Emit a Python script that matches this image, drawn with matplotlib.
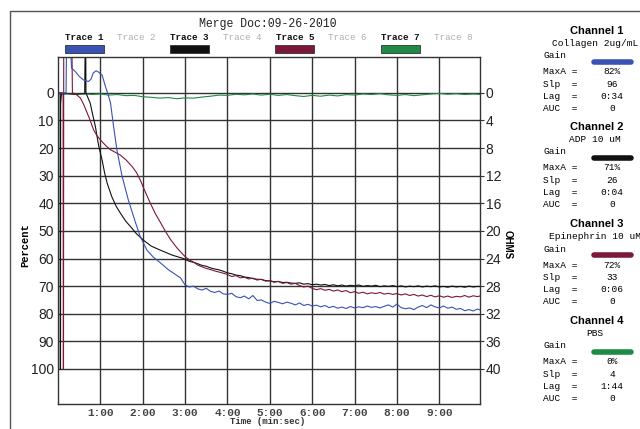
import numpy as np
import matplotlib
matplotlib.use('Agg')
import matplotlib.pyplot as plt
from matplotlib.patches import Rectangle
from matplotlib.lines import Line2D

MONO = 'Liberation Mono'
SANS = 'Liberation Sans'

# ---- traces (time in minutes, value in percent) ----
tail_t = [round(3.0 + 0.1 * i, 1) for i in range(71)]

blue_head_t = [0, 0.19, 0.20, 0.30, 0.32, 0.41, 0.50, 0.60, 0.72, 0.78, 0.83, 0.90, 0.95,
               1.04, 1.12, 1.18, 1.24, 1.31, 1.39, 1.51, 1.66, 1.83, 1.94, 2.10, 2.25,
               2.42, 2.60, 2.89]
blue_head_v = [0, 0, -15, -15, -9, -7.7, -6.0, -4.7, -4.1, -5.0, -7.2, -8.0, -7.6,
               -6.5, -2.3, 0.5, 3.7, 12, 20.6, 30, 38.8, 47, 52, 57, 59.5,
               61.6, 64, 67]
blue_tail_v = [69.6, 70.3, 70.0, 71.0, 71.4, 70.8, 71.9, 72.3, 71.8, 72.8,
               73.0, 72.6, 73.8, 74.2, 73.6, 74.6, 73.4, 75.2, 75.0, 75.8,
               76.3, 75.5, 75.9, 76.4, 75.8, 76.2, 76.8, 76.1, 77.0, 76.6,
               77.2, 76.9, 77.5, 77.0, 77.8, 77.3, 78.0, 77.6, 78.1, 77.4,
               77.9, 77.5, 77.8, 77.2, 77.7, 77.4, 77.9, 77.3, 76.8, 77.6,
               76.5, 77.8, 78.2, 77.9, 78.5, 77.6, 77.0, 77.8, 76.8, 77.5,
               77.9, 77.2, 78.0, 77.6, 78.4, 78.1, 78.9, 78.5, 79.0, 78.3, 78.8]

black_head_t = [0, 0.05, 0.052, 0.06, 0.062, 0.08, 0.2, 0.4, 0.63, 0.64, 0.655, 0.66,
                0.70, 0.76, 0.82, 0.88, 0.96, 1.04, 1.10, 1.16, 1.27, 1.37, 1.47,
                1.60, 1.71, 1.85, 2.02, 2.20, 2.42, 2.70, 2.96]
black_head_v = [0, 0, 100, 100, 4, 0.5, 0.3, 0.5, 0.3, -15, -15, 0,
                1.5, 3.7, 8, 12, 19.2, 24.3, 29, 32.7, 37.6, 41, 43.5,
                46.5, 48.4, 51, 53.4, 55.5, 57, 58.8, 60]
black_tail_v = [60.3, 61.0, 61.4, 61.9, 62.5, 62.8, 63.4, 63.8, 64.1, 64.6,
                65.2, 65.5, 66.0, 66.2, 66.7, 66.9, 67.3, 67.5, 67.6, 68.0,
                68.1, 68.4, 68.3, 68.7, 68.6, 68.9, 69.0, 68.8, 69.3, 69.1,
                69.5, 69.3, 69.6, 69.4, 69.8, 69.5, 69.9, 69.6, 70.0, 69.7,
                69.9, 69.6, 70.1, 69.8, 70.0, 69.7, 70.2, 69.9, 70.1, 69.8,
                70.2, 69.9, 70.3, 70.0, 70.2, 69.9, 70.3, 70.0, 70.2, 69.9,
                70.3, 70.1, 70.4, 70.0, 70.3, 70.1, 70.4, 70.0, 70.3, 70.1, 70.2]

red_head_t = [0, 0.12, 0.125, 0.13, 0.135, 0.33, 0.34, 0.40, 0.45, 0.53, 0.60, 0.69,
              0.76, 0.84, 0.92, 1.00, 1.12, 1.24, 1.35, 1.47, 1.60, 1.75, 1.85,
              1.94, 2.05, 2.18, 2.30, 2.42, 2.53, 2.65, 2.80, 2.96]
red_head_v = [0, 0, 100, 100, -15, -15, 0, 0.3, 0.8, 1.9, 4, 7.3,
              10, 13.4, 15.5, 17, 19, 20.6, 21.5, 22.5, 24.2, 26.7, 28.8,
              31.5, 35.5, 40, 43.8, 47, 50, 53, 56, 58.7]
red_tail_v = [59.3, 60.5, 61.3, 62.4, 63.0, 63.6, 64.0, 64.5, 64.9, 65.3,
              65.8, 66.5, 66.2, 67.0, 66.8, 67.4, 67.1, 67.8, 67.5, 68.2,
              68.0, 68.6, 68.3, 69.0, 68.7, 69.3, 69.0, 69.8, 70.3, 70.0,
              70.8, 71.3, 70.9, 71.5, 71.2, 71.8, 71.4, 72.0, 71.6, 72.4,
              72.0, 72.6, 72.2, 72.8, 72.4, 72.7, 72.3, 72.9, 72.6, 73.0,
              72.7, 73.2, 72.8, 73.4, 73.0, 73.6, 73.2, 73.8, 73.3, 73.9,
              73.5, 74.0, 73.6, 74.1, 73.7, 73.9, 73.4, 74.0, 73.5, 73.8, 73.4]

green_t = [round(0.2 * i, 1) for i in range(51)]
green_v = [0.0, 0.2, 0.4, 0.3, 0.6, 0.4, 0.8, 0.6, 1.0, 0.9,
           1.4, 1.6, 1.9, 1.7, 2.1, 1.8, 1.9, 1.5, 1.2, 0.8,
           0.9, 0.5, 0.7, 0.4, 0.8, 0.5, 0.9, 0.6, 1.0, 1.3,
           0.9, 1.2, 0.8, 1.1, 0.6, 0.8, 0.4, 0.6, 0.3, 0.7,
           0.9, 0.6, 1.0, 0.7, 0.4, 0.2, 0.5, 0.3, 0.6, 0.4, 0.6]

c_blue = '#3a52b4'
c_black = '#111111'
c_red = '#7c1838'
c_green = '#1f8a45'

trace_names = ['Trace %d' % i for i in range(1, 9)]
trace_colors = [c_blue, None, c_black, None, c_red, None, c_green, None]

channels = ['Channel 1', 'Channel 2', 'Channel 3', 'Channel 4']
agonists = ['Collagen 2ug/mL', 'ADP 10 uM', 'Epinephrin 10 uM', 'PBS']
ch_colors = [c_blue, c_black, c_red, c_green]
maxa = ['82%', '71%', '72%', '0%']
slp = ['96', '26', '33', '4']
lag = ['0:34', '0:04', '0:06', '1:44']
auc = ['0', '0', '0', '0']

W, H = 640, 429
fig = plt.figure(figsize=(W / 100, H / 100), dpi=100)
fig.patch.set_facecolor('white')


def px(x, y):
    return x / W, 1 - y / H


# outer frame
fig.patches.append(Rectangle(px(10, 440), 700 / W, 429 / H, transform=fig.transFigure,
                             fill=False, ec='#555555', lw=1.0))

ax = fig.add_axes([58 / W, 1 - 404 / H, (480 - 58) / W, (404 - 57) / H])
ax.plot(green_t, green_v, color=c_green, lw=0.8)
ax.plot(black_head_t + tail_t, black_head_v + black_tail_v, color=c_black, lw=0.8)
ax.plot(red_head_t + tail_t, red_head_v + red_tail_v, color=c_red, lw=0.8)
ax.plot(blue_head_t + tail_t, blue_head_v + blue_tail_v, color=c_blue, lw=0.8)

ax.set_xlim(0, 9.96)
ax.set_ylim(112.7, -13)
ax.set_yticks(range(0, 101, 10))
ax.set_yticklabels([str(v) for v in range(0, 101, 10)], fontsize=10, family=SANS,
                   color='#222222')
ax.set_xticks(range(1, 10))
ax.set_xticklabels(['%d:00' % m for m in range(1, 10)], fontsize=8, family=MONO,
                   fontweight='bold', color='#444444')
ax.tick_params(axis='both', length=0, pad=3)
ax.grid(True, color='#333333', lw=1.0)
for s in ax.spines.values():
    s.set_color('#333333')
    s.set_linewidth(1.0)

ax2 = ax.twinx()
ax2.set_ylim(112.7 * 0.4, -13 * 0.4)
ax2.set_yticks(range(0, 41, 4))
ax2.set_yticklabels([str(v) for v in range(0, 41, 4)], fontsize=10, family=SANS,
                    color='#222222')
ax2.tick_params(axis='y', length=3, pad=1, color='#333333')
for s in ax2.spines.values():
    s.set_visible(False)

fig.text(*px(268, 422), 'Time (min:sec)', family=MONO, fontsize=6.5, fontweight='bold',
         ha='center', va='center', color='#333333')
fig.text(*px(25, 245), 'Percent', family=MONO, fontsize=7.5, fontweight='bold',
         rotation=90, ha='center', va='center')
fig.text(*px(508, 245), 'OHMS', family=SANS, fontsize=7, fontweight='bold',
         rotation=270, ha='center', va='center')

fig.text(*px(268, 24), 'Merge Doc:09-26-2010', family=MONO, fontsize=8.3,
         ha='center', va='center', color='#222222')

for i, (name, col) in enumerate(zip(trace_names, trace_colors)):
    cx = 84 + i * 52.7
    if col is None:
        fig.text(*px(cx, 38), name, family=MONO, fontsize=6.7, ha='center', va='center',
                 color='#b0b0b0')
    else:
        fig.text(*px(cx, 38), name, family=MONO, fontsize=6.7, fontweight='bold',
                 ha='center', va='center', color='#111111')
        fig.patches.append(Rectangle(px(cx - 19.5, 53), 39 / W, 8 / H,
                                     transform=fig.transFigure, fc=col, ec='#333333',
                                     lw=0.6))

# channel panel
ch_y = [31, 127, 224, 321]
for i in range(4):
    y0 = ch_y[i]
    fig.text(*px(597, y0), channels[i], family=SANS, fontsize=8, fontweight='bold',
             ha='center', va='center')
    fig.text(*px(595, y0 + 13), agonists[i], family=MONO, fontsize=6.8,
             ha='center', va='center')
    fig.text(*px(543, y0 + 25), 'Gain', family=MONO, fontsize=6.8, ha='left', va='center')
    x1, yb = px(594, y0 + 31)
    x2, _ = px(631, y0 + 31)
    fig.lines.append(Line2D([x1, x2], [yb, yb], transform=fig.transFigure,
                            color=ch_colors[i], lw=4, solid_capstyle='round'))
    rows = [('MaxA =', maxa[i]), ('Slp  =', slp[i]), ('Lag  =', lag[i]), ('AUC  =', auc[i])]
    for j, (lab, val) in enumerate(rows):
        yy = y0 + 41 + j * 12.3
        fig.text(*px(543, yy), lab, family=MONO, fontsize=6.8, ha='left', va='center')
        fig.text(*px(612, yy), val, family=MONO, fontsize=6.8, ha='center', va='center')

fig.savefig('out.png', dpi=100)
